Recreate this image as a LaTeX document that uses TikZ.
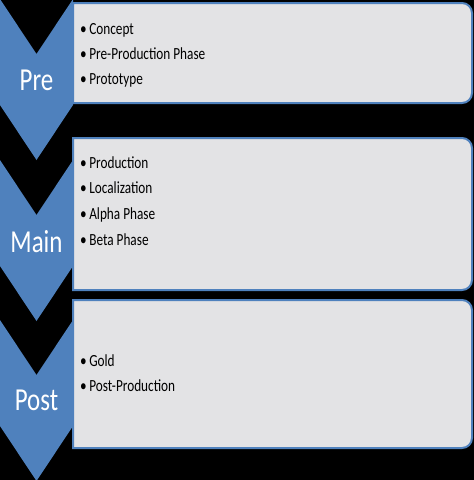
\documentclass[tikz,border=0pt]{standalone}
\usepackage{fontspec}
\setmainfont{Carlito}[FakeStretch=0.78]
\usetikzlibrary{calc, positioning}
\definecolor{chevblue}{RGB}{79,129,189}
\definecolor{boxgray}{RGB}{227,227,229}
\tikzset{
    chevron/.style = {fill=chevblue, draw=none},
    boxshape/.style = {draw=chevblue, line width=2pt, fill=boxgray},
    labelnode/.style = {draw=none, fill=none, inner sep=0em, text=white, 
      anchor=base, font=\fontsize{32}{34}\selectfont},
    itemnode/.style = {draw=none, fill=none, inner sep=0em, anchor=base west, 
      font=\fontsize{17}{20}\selectfont}
}
\newcommand{\itm}[1]{\textbullet\hspace{2.5pt}#1}
\begin{document}
\begin{tikzpicture}[x=1pt, y=-1pt]
\fill[black] (0,0) rectangle (474,480);
\useasboundingbox (0,0) rectangle (474,480);

\draw[boxshape] (73,3) -- (462,3) arc[start angle=-90, end angle=0, radius=10] 
	-- (472,93) arc[start angle=0, end angle=90, radius=10] -- (73,103) -- cycle;
\draw[boxshape] (73,138) -- (462,138) arc[start angle=-90, end angle=0, radius=10] 
	-- (472,280) arc[start angle=0, end angle=90, radius=10] -- (73,290) -- cycle;
\draw[boxshape] (73,300) -- (462,300) arc[start angle=-90, end angle=0, radius=10] 
	-- (472,438) arc[start angle=0, end angle=90, radius=10] -- (73,448) -- cycle;

\fill[chevron] (0,-1) -- (36.5,54) -- (73,-1) -- (73,105) -- (36.5,160) -- (0,105) -- cycle;
\fill[chevron] (0,160) -- (36.5,215) -- (73,160) -- (73,266) -- (36.5,321) -- (0,266) -- cycle;
\fill[chevron] (0,320) -- (36.5,375) -- (73,320) -- (73,426) -- (36.5,481) -- (0,426) -- cycle;

\node[labelnode, name=pre] at (36.5,90) {Pre};
\node[labelnode, name=main] at (36.5,252) {Main};
\node[labelnode, name=post] at (36.5,410) {Post};

\node[itemnode, name=concept] at (80,34) {\itm{Concept}};
\node[itemnode, name=preprod, below=25pt of concept.base west, anchor=base west] {\itm{Pre-Production Phase}};
\node[itemnode, name=proto, below=25pt of preprod.base west, anchor=base west] {\itm{Prototype}};

\node[itemnode, name=prod] at (80,168) {\itm{Production}};
\node[itemnode, name=local, below=25.7pt of prod.base west, anchor=base west] {\itm{Localization}};
\node[itemnode, name=alpha, below=25.7pt of local.base west, anchor=base west] {\itm{Alpha Phase}};
\node[itemnode, name=beta, below=25.7pt of alpha.base west, anchor=base west] {\itm{Beta Phase}};

\node[itemnode, name=gold] at (80,366) {\itm{Gold}};
\node[itemnode, name=postprod, below=25pt of gold.base west, anchor=base west] {\itm{Post-Production}};
\end{tikzpicture}
\end{document}
